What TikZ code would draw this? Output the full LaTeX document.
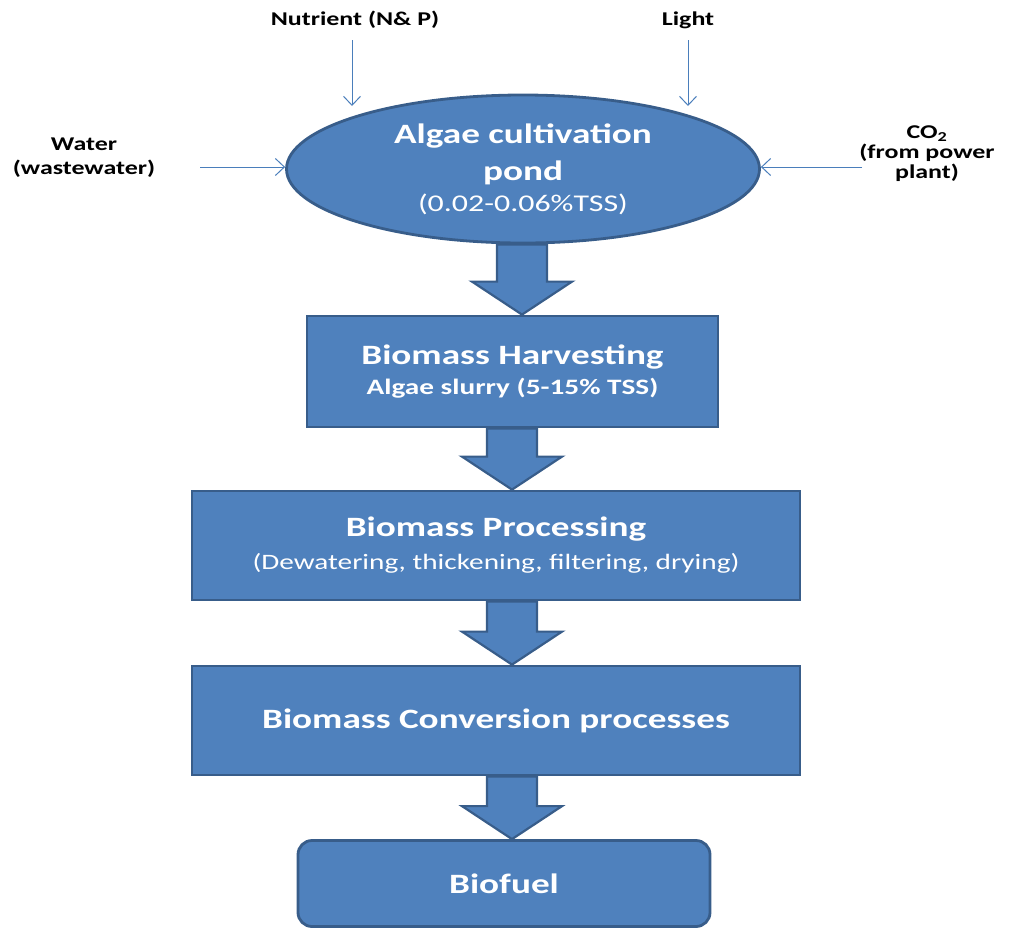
\documentclass[tikz,border=0pt]{standalone}
\usepackage{fontspec}
\setmainfont{Carlito}[FakeStretch = 1.33]
\usepackage{tikz}
\usetikzlibrary{arrows.meta}
\usetikzlibrary{calc}
\usetikzlibrary{shapes.geometric}
\definecolor{mblue}{HTML}{4F81BD}
\definecolor{mdark}{HTML}{385D8A}
\definecolor{mline}{HTML}{4A7EBB}
\tikzset{stage/.style = {draw = mdark, fill = mblue, line width = 2.8pt, text = white, align = center, inner sep = 0,
                         font = \bfseries\fontsize{28}{34}\selectfont}}
\tikzset{bigarr/.style = {draw = mdark, fill = mblue, line width = 2.2pt, line join = miter}}
\tikzset{feed/.style = {draw = mline, line width = 1pt, -{Straight Barb[length = 9pt, width = 17pt]}}}
\tikzset{input/.style = {font = \bfseries\fontsize{19.5}{24}\selectfont, align = center}}
\newcommand{\sub}{\mdseries\fontsize{22}{26}\selectfont}
% block arrow from one stage down to the next, tip at x = #3
\newcommand{\bigarrow}[3]{%
  \draw [bigarr] let \p1 = (#1.south), \p2 = (#2.north) in
    (#3pt - 25pt, \y1) -- (#3pt - 25pt, \y2 + 33pt) -- (#3pt - 50pt, \y2 + 33pt) -- (#3pt, \y2)
    -- (#3pt + 50pt, \y2 + 33pt) -- (#3pt + 25pt, \y2 + 33pt) -- (#3pt + 25pt, \y1) -- cycle;}

\begin{document}
\begin{tikzpicture}[x = 1pt, y = -1pt]
    \useasboundingbox (0, 0) rectangle (1011, 929);

    \node [stage, ellipse, minimum width = 473pt, minimum height = 148pt] (pond) at (523, 169)
      {Algae cultivation\\[3pt] pond\\[-3pt] {\mdseries\fontsize{24}{28}\selectfont (0.02-0.06\%TSS)}};
    \node [stage, rectangle, minimum width = 411pt, minimum height = 111pt] (harvest) at (512.5, 371.5)
      {Biomass Harvesting\\[-4pt] {\fontsize{22}{26}\selectfont Algae slurry (5-15\% TSS)}};
    \node [stage, rectangle, minimum width = 608pt, minimum height = 109pt] (process) at (496, 545.5)
      {Biomass Processing\\[-1pt] {\sub (Dewatering, thickening, filtering, drying)}};
    \node [stage, rectangle, minimum width = 608pt, minimum height = 109pt] (convert) at (496, 720.5)
      {Biomass Conversion processes};
    \node [stage, rectangle, rounded corners = 14pt, minimum width = 412pt, minimum height = 86pt] (fuel) at (504, 883.5)
      {Biofuel};

    \bigarrow{pond}{harvest}{522}
    \bigarrow{harvest}{process}{512}
    \bigarrow{process}{convert}{512}
    \bigarrow{convert}{fuel}{512}

    \node [input] (nutrient) at (355, 20) {Nutrient (N\& P)};
    \node [input] (light) at (688, 20) {Light};
    \node [input] (water) at (84, 158) {Water\\(wastewater)};
    \node [input] (co2) at (927, 154) {CO\textsubscript{2}\\[-4pt](from power\\[-4pt]plant)};

    \coordinate (n0) at (352, 40);
    \coordinate (l0) at (688, 40);
    \coordinate (w0) at (200, 167);
    \coordinate (c0) at (862, 167);

    \draw [feed] (n0) -- (352, 106);
    \draw [feed] (l0) -- (688, 106);
    \draw [feed] (w0) -- (pond.west |- w0);
    \draw [feed] (c0) -- (pond.east |- c0);
\end{tikzpicture}
\end{document}
